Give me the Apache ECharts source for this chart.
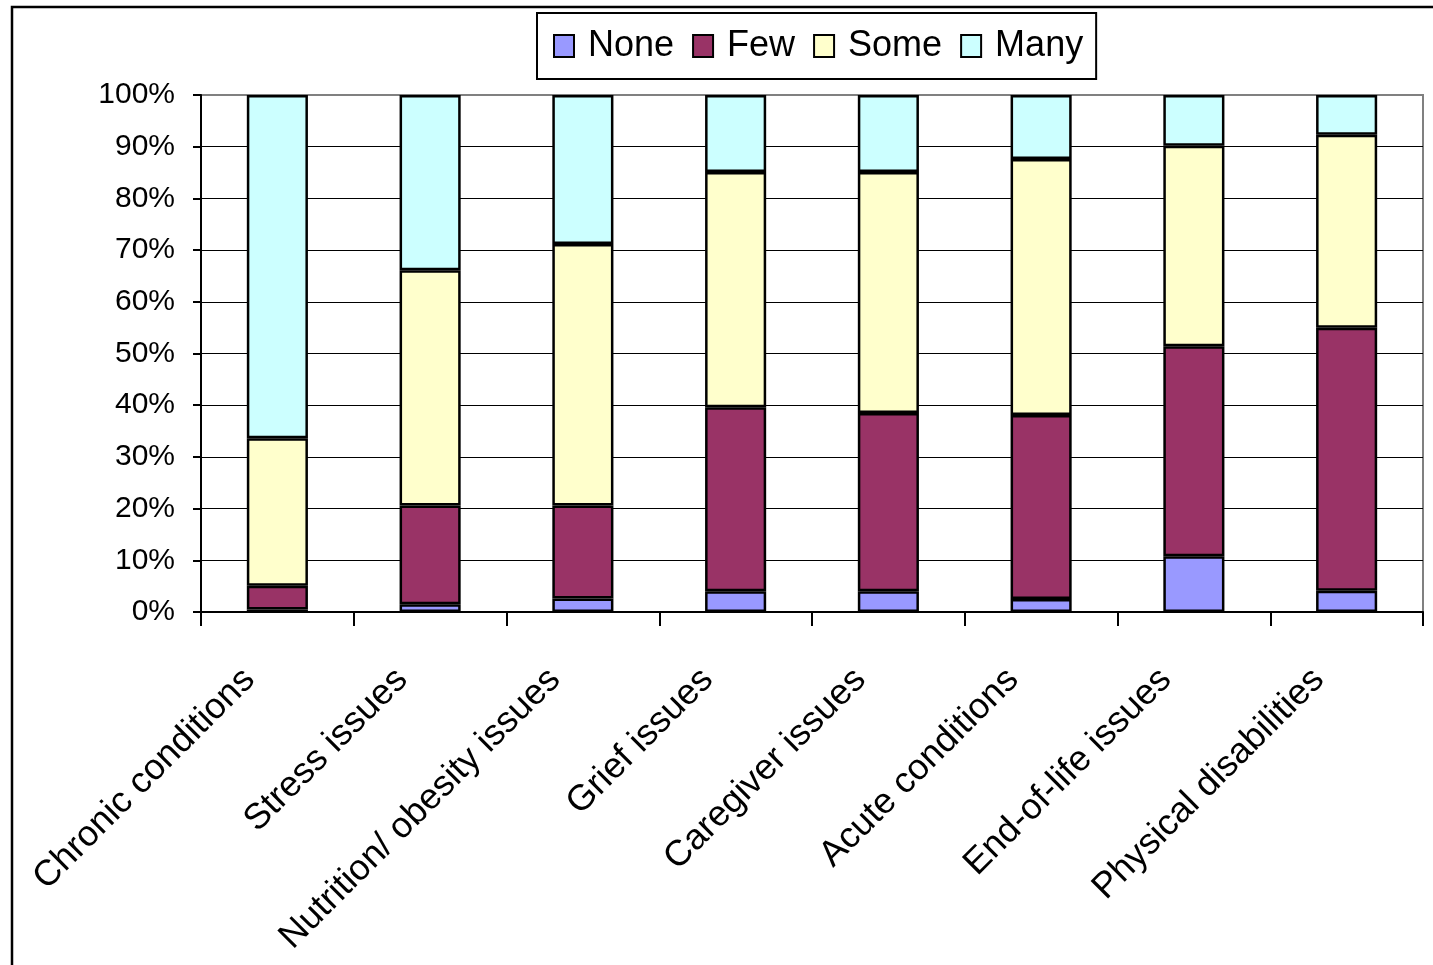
<!DOCTYPE html>
<html>
<head>
<meta charset="utf-8">
<title>Health issue coverage</title>
<script src="https://cdn.jsdelivr.net/npm/echarts@6/dist/echarts.min.js"></script>
<style>
  html, body { margin: 0; padding: 0; background: #ffffff; }
  #chart { width: 1433px; height: 965px; }
</style>
</head>
<body>
<div id="chart"></div>
<script>
// Categories along the x axis
const categories = [
  'Chronic conditions',
  'Stress issues',
  'Nutrition/ obesity issues',
  'Grief issues',
  'Caregiver issues',
  'Acute conditions',
  'End-of-life issues',
  'Physical disabilities'
];

// Share of responses per category (percent), stacked to 100%
const noneValues = [0.5, 1.5, 2.6, 4.0, 4.0, 2.5, 10.8, 4.1];
const fewValues  = [4.6, 19.1, 18.0, 35.6, 34.5, 35.6, 40.6, 50.9];
const someValues = [28.5, 45.5, 50.6, 45.5, 46.6, 49.5, 38.8, 37.3];
const manyValues = [66.4, 33.9, 28.8, 14.9, 14.9, 12.4, 9.8, 7.7];

const seriesNames = ['None', 'Few', 'Some', 'Many'];
const seriesColors = ['#9999FF', '#993366', '#FFFFCC', '#CCFFFF'];
const seriesValues = [noneValues, fewValues, someValues, manyValues];

const FONT = '"Liberation Sans", Arial, sans-serif';

const chart = echarts.init(document.getElementById('chart'), null, { renderer: 'canvas' });

chart.setOption({
  animation: false,
  backgroundColor: '#ffffff',
  textStyle: { fontFamily: FONT, color: '#000' },
  graphic: [{
    type: 'rect',
    silent: true,
    z: 100,
    shape: { x: 12, y: 7, width: 1500, height: 1000 },
    style: { fill: 'none', stroke: '#000', lineWidth: 2.5 }
  }],
  legend: {
    data: seriesNames,
    left: 537,
    top: 13,
    orient: 'horizontal',
    padding: [14, 13, 14, 16],
    itemWidth: 20,
    itemHeight: 22,
    itemGap: 18,
    borderColor: '#000',
    borderWidth: 2,
    backgroundColor: '#fff',
    icon: 'rect',
    itemStyle: { borderColor: '#000', borderWidth: 2 },
    textStyle: {
      fontFamily: FONT,
      fontSize: 36,
      color: '#000',
      lineHeight: 38,
      padding: [0, 0, 0, 9]
    }
  },
  grid: {
    left: 201,
    right: 10,
    top: 95,
    bottom: 353,
    show: true,
    borderColor: '#808080',
    borderWidth: 2,
    containLabel: false
  },
  xAxis: {
    type: 'category',
    data: categories,
    boundaryGap: true,
    axisLine: { show: true, lineStyle: { color: '#000', width: 2 } },
    axisTick: { show: true, alignWithLabel: false, length: 14, lineStyle: { color: '#000', width: 2 } },
    axisLabel: {
      interval: 0,
      rotate: 45,
      fontFamily: FONT,
      fontSize: 36,
      color: '#000',
      margin: 34,
      padding: [0, 40, 0, 0]
    },
    splitLine: { show: false }
  },
  yAxis: {
    type: 'value',
    min: 0,
    max: 100,
    interval: 10,
    axisLine: { show: true, lineStyle: { color: '#000', width: 2 } },
    axisTick: { show: true, inside: false, length: 8, lineStyle: { color: '#000', width: 2 } },
    axisLabel: {
      formatter: '{value}%',
      fontFamily: FONT,
      fontSize: 30,
      color: '#000',
      margin: 26
    },
    splitLine: {
      show: true,
      showMaxLine: false,
      lineStyle: { color: '#000', width: 1.2 }
    }
  },
  series: seriesNames.map((name, i) => ({
    name: name,
    type: 'bar',
    stack: 'total',
    barWidth: '40%',
    data: seriesValues[i],
    itemStyle: {
      color: seriesColors[i],
      borderColor: '#000',
      borderWidth: 2.5
    }
  }))
});
</script>
</body>
</html>
